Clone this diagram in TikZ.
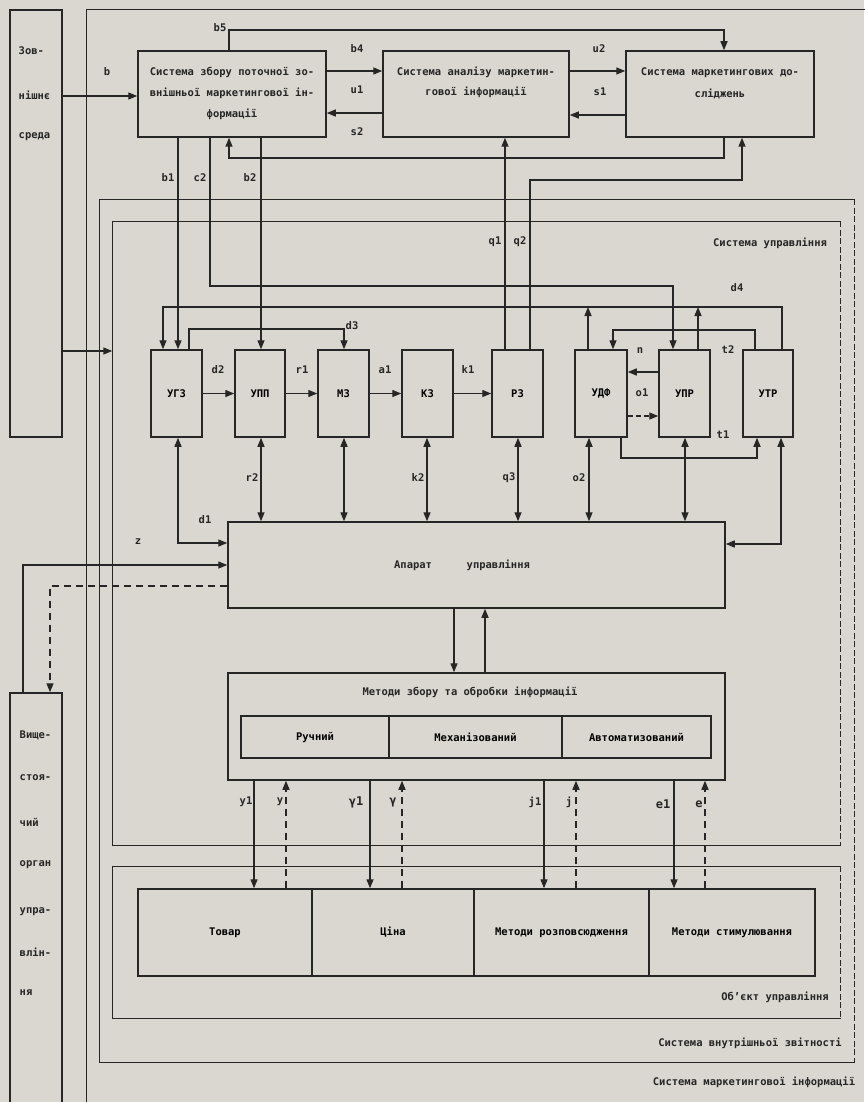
\documentclass[tikz,border=0pt]{standalone}
\usepackage{fontspec}
\setmainfont{DejaVu Sans Mono}
\usetikzlibrary{arrows.meta}
\definecolor{paper}{RGB}{218,215,208}
\definecolor{ink}{RGB}{38,38,38}
\begin{document}
\begin{tikzpicture}[x=1pt,y=-1pt,line width=1.4pt,draw=ink,
  font=\fontsize{10.5}{12}\selectfont\bfseries,
  box/.style={draw=ink,line width=1.5pt,inner sep=0pt},
  frame/.style={draw=none,inner sep=0pt},
  txt/.style={inner sep=0pt,text=ink},
  arr/.style={-{Triangle[length=9pt,width=7pt]}},
  darr/.style={{Triangle[length=9pt,width=7pt]}-{Triangle[length=9pt,width=7pt]}},
  dsh/.style={dash pattern=on 7pt off 5pt},
  edsh/.style={dash pattern=on 6pt off 2.5pt}]
\useasboundingbox (0,0) rectangle (864,1102);
\fill[paper] (0,0) rectangle (864,1102);

% frames
\node[frame,minimum width=793pt,minimum height=1110pt] (smi) at (483.5,565) {};
\draw (smi.south west) -- (smi.north west) -- (smi.north east);
\node[frame,minimum width=754pt,minimum height=862pt] (svz) at (477,631) {};
\draw (svz.north east) -- (svz.north west) -- (svz.south west) -- (svz.south east);
\draw[edsh] (svz.north east) -- (svz.south east);
\node[frame,minimum width=727pt,minimum height=623pt] (su) at (476.5,533.5) {};
\draw (su.north east) -- (su.north west) -- (su.south west) -- (su.south east);
\draw[edsh] (su.north east) -- (su.south east);
\node[frame,minimum width=727pt,minimum height=151pt] (obj) at (476.5,942.5) {};
\draw (obj.north east) -- (obj.north west) -- (obj.south west) -- (obj.south east);
\draw[edsh] (obj.north east) -- (obj.south east);

\node[txt] (l-su) at (770,243) {Система управління};
\node[txt] (l-obj) at (775,997) {Об'єкт управління};
\node[txt] (l-svz) at (750,1043) {Система внутрішньої звітності};
\node[txt] (l-smi) at (754,1082) {Система маркетингової інформації};

% left boxes
\node[box,minimum width=52pt,minimum height=427pt] (zov) at (36,223.5) {};
\node[txt,anchor=west] (zov1) at (18,51) {Зов-};
\node[txt,anchor=west] (zov2) at (18,95) {нішнє};
\node[txt,anchor=west] (zov3) at (18,137) {среда};
\node[box,minimum width=52pt,minimum height=417pt] (vys) at (36,901.5) {};
\node[txt,anchor=west] (vys1) at (19,735) {Вище-};
\node[txt,anchor=west] (vys2) at (19,778) {стоя-};
\node[txt,anchor=west] (vys3) at (19,822) {чий};
\node[txt,anchor=west] (vys4) at (19,865) {орган};
\node[txt,anchor=west] (vys5) at (19,912) {упра-};
\node[txt,anchor=west] (vys6) at (19,952) {влін-};
\node[txt,anchor=west] (vys7) at (19,993) {ня};

% top boxes
\node[box,minimum width=188pt,minimum height=86pt] (sz) at (232,94) {};
\node[txt,align=center,font=\fontsize{10.5}{21}\selectfont\bfseries] (sz-t) at (232,93) {Система збору поточної зо-\\внішньої маркетингової ін-\\формації};
\node[box,minimum width=186pt,minimum height=86pt] (san) at (476,94) {};
\node[txt,align=center,font=\fontsize{10.5}{20}\selectfont\bfseries] (san-t) at (476,82) {Система аналізу маркетин-\\гової інформації};
\node[box,minimum width=188pt,minimum height=86pt] (smd) at (720,94) {};
\node[txt,align=center,font=\fontsize{10.5}{22}\selectfont\bfseries] (smd-t) at (720,83.5) {Система маркетингових до-\\сліджень};

% row boxes
\foreach \n/\cx/\w/\t in {ugz/176.5/51/УГЗ, upp/260/50/УПП, mz/343.5/51/МЗ, kz/427.5/51/КЗ, rz/517.5/51/РЗ, udf/601/52/УДФ, upr/684.5/51/УПР, utr/768/50/УТР}
  \node[box,minimum width=\w pt,minimum height=87pt] (\n) at (\cx,393.5) {\t};

% apparat and methods
\node[box,minimum width=497pt,minimum height=86pt] (app) at (476.5,565) {};
\node[txt] (app-t) at (462,565) {Апарат\hspace{3.3em}управління};
\node[box,minimum width=497pt,minimum height=107pt] (met) at (476.5,726.5) {};
\node[txt] (met-t) at (470,692) {Методи збору та обробки інформації};
\node[box,minimum width=148pt,minimum height=42pt] (ruch) at (315,737) {Ручний};
\node[box,minimum width=173pt,minimum height=42pt] (mekh) at (475.5,737) {Механізований};
\node[box,minimum width=149pt,minimum height=42pt] (avto) at (636.5,737) {Автоматизований};

% object row
\node[box,minimum width=174pt,minimum height=87pt] (tov) at (225,932.5) {Товар};
\node[box,minimum width=162pt,minimum height=87pt] (tsi) at (393,932.5) {Ціна};
\node[box,minimum width=175pt,minimum height=87pt] (roz) at (561.5,932.5) {Методи розповсюдження};
\node[box,minimum width=166pt,minimum height=87pt] (sty) at (732,932.5) {Методи стимулювання};

% top connectors
\draw[arr] (zov.east |- 0,96) -- (sz.west |- 0,96);
\draw[arr] (sz.east |- 0,71) -- (san.west |- 0,71);
\draw[arr] (san.west |- 0,113) -- (sz.east |- 0,113);
\draw[arr] (san.east |- 0,71) -- (smd.west |- 0,71);
\draw[arr] (smd.west |- 0,115) -- (san.east |- 0,115);
\draw[arr] (229,0 |- sz.north) -- (229,30) -- (724,30) -- (724,0 |- smd.north);
\draw[arr] (724,0 |- smd.south) -- (724,158) -- (229,158) -- (229,0 |- sz.south);
\draw[arr] (505,0 |- rz.north) -- (505,0 |- san.south);
\draw[arr] (530,0 |- rz.north) -- (530,180) -- (742,180) -- (742,0 |- smd.south);
\draw[arr] (178,0 |- sz.south) -- (178,0 |- ugz.north);
\draw[arr] (210,0 |- sz.south) -- (210,286) -- (673,286) -- (673,0 |- upr.north);
\draw[arr] (261,0 |- sz.south) -- (261,0 |- upp.north);
\draw[arr] (zov.east |- 0,351) -- (su.west |- 0,351);

% feedback lines in the row
\draw[arr] (782,0 |- utr.north) -- (782,307) -- (163,307) -- (163,0 |- ugz.north);
\draw[arr] (588,0 |- udf.north) -- (588,307);
\draw[arr] (698,0 |- upr.north) -- (698,307);
\draw[arr] (189,0 |- ugz.north) -- (189,329) -- (344,329) -- (344,0 |- mz.north);
\draw[arr] (755,0 |- utr.north) -- (755,330) -- (613,330) -- (613,0 |- udf.north);
\draw[arr] (ugz.east) -- (upp.west);
\draw[arr] (upp.east) -- (mz.west);
\draw[arr] (mz.east) -- (kz.west);
\draw[arr] (kz.east) -- (rz.west);
\draw[arr] (upr.west |- 0,372) -- (udf.east |- 0,372);
\draw[arr,dash pattern=on 5pt off 3pt] (udf.east |- 0,416) -- (upr.west |- 0,416);
\draw[arr] (621,0 |- udf.south) -- (621,458) -- (757,458) -- (757,0 |- utr.south);

% row <-> apparat
\draw[darr] (178,0 |- ugz.south) -- (178,543) -- (app.west |- 0,543);
\foreach \x/\b in {261/upp, 344/mz, 427/kz, 518/rz, 589/udf, 685/upr}
  \draw[darr] (\x,0 |- \b.south) -- (\x,0 |- app.north);
\draw[darr] (781,0 |- utr.south) -- (781,544) -- (app.east |- 0,544);
\draw[arr] (23,0 |- vys.north) -- (23,565) -- (app.west |- 0,565);
\draw[arr,dsh] (app.west |- 0,586) -- (50,586) -- (50,0 |- vys.north);

% apparat <-> methods
\draw[arr] (454,0 |- app.south) -- (454,0 |- met.north);
\draw[arr] (485,0 |- met.north) -- (485,0 |- app.south);

% methods <-> object
\draw[arr] (254,0 |- met.south) -- (254,0 |- tov.north);
\draw[arr,dsh] (286,0 |- tov.north) -- (286,0 |- met.south);
\draw[arr] (370,0 |- met.south) -- (370,0 |- tsi.north);
\draw[arr,dsh] (402,0 |- tsi.north) -- (402,0 |- met.south);
\draw[arr] (544,0 |- met.south) -- (544,0 |- roz.north);
\draw[arr,dsh] (576,0 |- roz.north) -- (576,0 |- met.south);
\draw[arr] (674,0 |- met.south) -- (674,0 |- sty.north);
\draw[arr,dsh] (705,0 |- sty.north) -- (705,0 |- met.south);

% labels
\node[txt] (lb) at (107,72) {b};
\node[txt] (lb4) at (357,49) {b4};
\node[txt] (lu1) at (357,90) {u1};
\node[txt] (ls2) at (357,132) {s2};
\node[txt] (lu2) at (599,49) {u2};
\node[txt] (ls1) at (600,92) {s1};
\node[txt] (lb5) at (220,28) {b5};
\node[txt] (lb1) at (168,178) {b1};
\node[txt] (lc2) at (200,178) {c2};
\node[txt] (lb2) at (250,178) {b2};
\node[txt] (lq1) at (495,242) {q1};
\node[txt] (lq2) at (520,242) {q2};
\node[txt] (ld3) at (352,326) {d3};
\node[txt] (ld4) at (737,288) {d4};
\node[txt] (ld2) at (218,370) {d2};
\node[txt] (lr1) at (302,370) {r1};
\node[txt] (la1) at (385,370) {a1};
\node[txt] (lk1) at (468,370) {k1};
\node[txt] (ln) at (640,351) {n};
\node[txt] (lo1) at (642,393) {o1};
\node[txt] (lt2) at (728,350) {t2};
\node[txt] (lt1) at (723,435) {t1};
\node[txt] (lr2) at (252,478) {r2};
\node[txt] (lk2) at (418,478) {k2};
\node[txt] (lq3) at (509,478) {q3};
\node[txt] (lo2) at (579,478) {o2};
\node[txt] (ld1) at (205,520) {d1};
\node[txt] (lz) at (138,542) {z};
\node[txt] (ly1) at (246,802) {y1};
\node[txt] (ly) at (280,802) {y};
\node[txt,font=\fontsize{12}{12}\selectfont\bfseries] (lg1) at (356,802) {γ1};
\node[txt,font=\fontsize{12}{12}\selectfont\bfseries] (lg) at (393,802) {γ};
\node[txt] (lj1) at (535,802) {j1};
\node[txt] (lj) at (569,802) {j};
\node[txt,font=\fontsize{12}{12}\selectfont\bfseries] (le1) at (663,804) {e1};
\node[txt,font=\fontsize{12}{12}\selectfont\bfseries] (le) at (699,804) {e};
\end{tikzpicture}
\end{document}
